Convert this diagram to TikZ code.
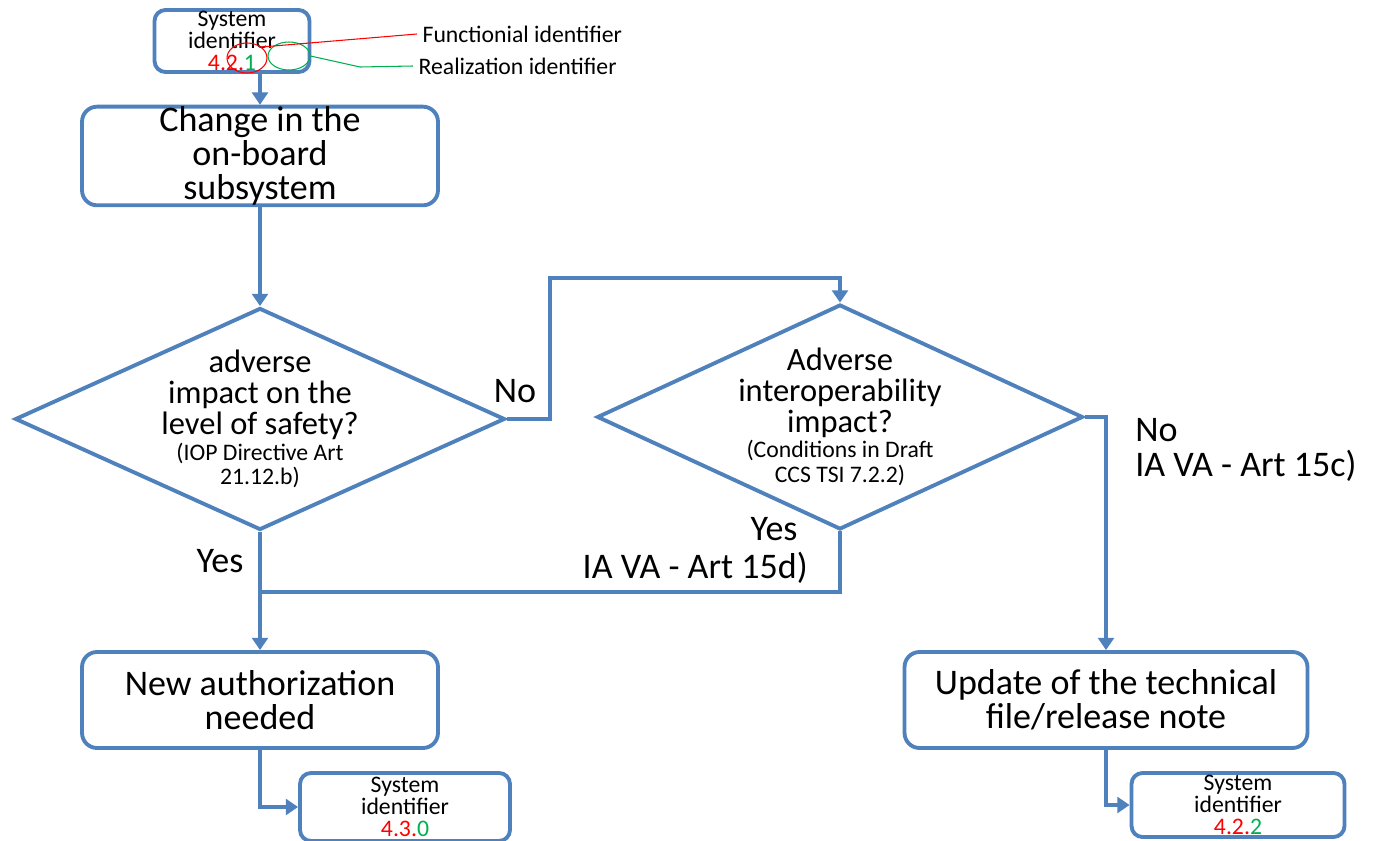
\documentclass[tikz,border=0pt]{standalone}
\usepackage{fontspec}
\setmainfont{Carlito}
\usepackage{xcolor}
\usetikzlibrary{shapes.geometric, arrows.meta, positioning, calc}
\definecolor{flowblue}{HTML}{4F81BD}
\definecolor{idred}{HTML}{FF0000}
\definecolor{idgreen}{HTML}{00B050}
\newcommand{\subnote}{\fontsize{13.5}{13.6}\selectfont}
\tikzset{
  stepbox/.style={draw=flowblue, line width=2.2pt, rounded corners=0.3cm, align=center, inner sep=0pt, font=\fontsize{20.5}{19.3}\selectfont},
  idbox/.style={draw=flowblue, line width=2.2pt, rounded corners=0.22cm, align=center, inner sep=0pt, font=\fontsize{13.5}{12.6}\selectfont},
  decision/.style={diamond, aspect=2.2, draw=flowblue, line width=2.2pt, align=center, inner sep=-6pt, font=\fontsize{18.5}{17.6}\selectfont},
  flow/.style={draw=flowblue, line width=2.2pt, -{Triangle[length=7pt, width=9pt]}},
  link/.style={draw=flowblue, line width=2.2pt},
  answer/.style={inner sep=0pt, font=\fontsize{20.5}{20}\selectfont},
  note/.style={inner sep=3pt, font=\fontsize{13.5}{14}\selectfont},
  ring/.style={ellipse, line width=0.6pt, inner sep=0pt}
}

\begin{document}
\begin{tikzpicture}[x=0.02cm, y=-0.02cm]
\path[use as bounding box, fill=white] (0,0) rectangle (1373,841);

% identifier box and its callouts
\node[idbox, minimum width=3.1cm, minimum height=1.24cm] (sys1) at (232,41) {System\\identifier\\\textcolor{idred}{4.2.}\textcolor{idgreen}{1}};
\node[ring, draw=idred, minimum width=0.8cm, minimum height=0.6cm] (funcring) at (247,58) {};
\node[ring, draw=idgreen, minimum width=0.84cm, minimum height=0.56cm] (realring) at (289,56) {};
\node[note, anchor=west] (funclbl) at (417,34) {Functionial identifier};
\node[note, anchor=west] (reallbl) at (413,66) {Realization identifier};
\coordinate (realbend) at (360,67);
\draw[idred, line width=0.6pt] (funcring.north east) -- (funclbl.west);
\draw[idgreen, line width=0.6pt] (realring.east) -- (realbend) -- (reallbl.west);

% boxes
\node[stepbox, minimum width=7.12cm, minimum height=1.94cm] (change) at (260,156) {Change in the\\on-board\\subsystem};
\node[stepbox, minimum width=7.12cm, minimum height=1.92cm] (auth) at (260,700) {New authorization\\needed};
\node[stepbox, minimum width=8.06cm, minimum height=1.92cm] (upd) at (1106,700) {Update of the technical\\file/release note};
\node[idbox, minimum width=4.2cm, minimum height=1.36cm] (sys2) at (405,807) {System\\identifier\\\textcolor{idred}{4.3.}\textcolor{idgreen}{0}};
\node[idbox, minimum width=4.26cm, minimum height=1.28cm] (sys3) at (1238,805) {System\\identifier\\\textcolor{idred}{4.2.}\textcolor{idgreen}{2}};

% decisions
\node[decision, minimum width=9.8cm, minimum height=4.44cm] (d1) at (260,419) {adverse\\impact on the\\level of safety?\\[-3pt]{\subnote (IOP Directive Art}\\[-4pt]{\subnote 21.12.b)}};
\node[decision, minimum width=9.72cm, minimum height=4.5cm] (d2) at (840,417) {Adverse\\interoperability\\impact?\\[-3.5pt]{\subnote (Conditions in Draft}\\[-3.5pt]{\subnote CCS TSI 7.2.2)}};

% answers
\node[answer] (noA) at (515,391) {No};
\node[answer] (yesA) at (220,561) {Yes};
\node[answer] (yesB) at (774,529) {Yes};
\node[answer, anchor=east] (art15d) at (808,568) {IA VA - Art 15d)};
\node[answer, anchor=west] (noB) at (1135,430) {No};
\node[answer, anchor=west] (art15c) at (1135,466) {IA VA - Art 15c)};

% connectors
\coordinate (noturn) at (550,278);
\coordinate (merge) at (d1.south |- 0,592);
\draw[flow] (change.north |- sys1.south) -- (change.north);
\draw[flow] (change.south) -- (d1.north);
\draw[flow] (d1.east) -| (noturn) -| (d2.north);
\draw[flow] (d2.east) -| (upd.north);
\draw[link] (d2.south) |- (merge);
\draw[flow] (d1.south) -- (auth.north);
\draw[flow] (auth.south) |- (sys2.west);
\draw[flow] (upd.south) |- (sys3.west);
\end{tikzpicture}
\end{document}
